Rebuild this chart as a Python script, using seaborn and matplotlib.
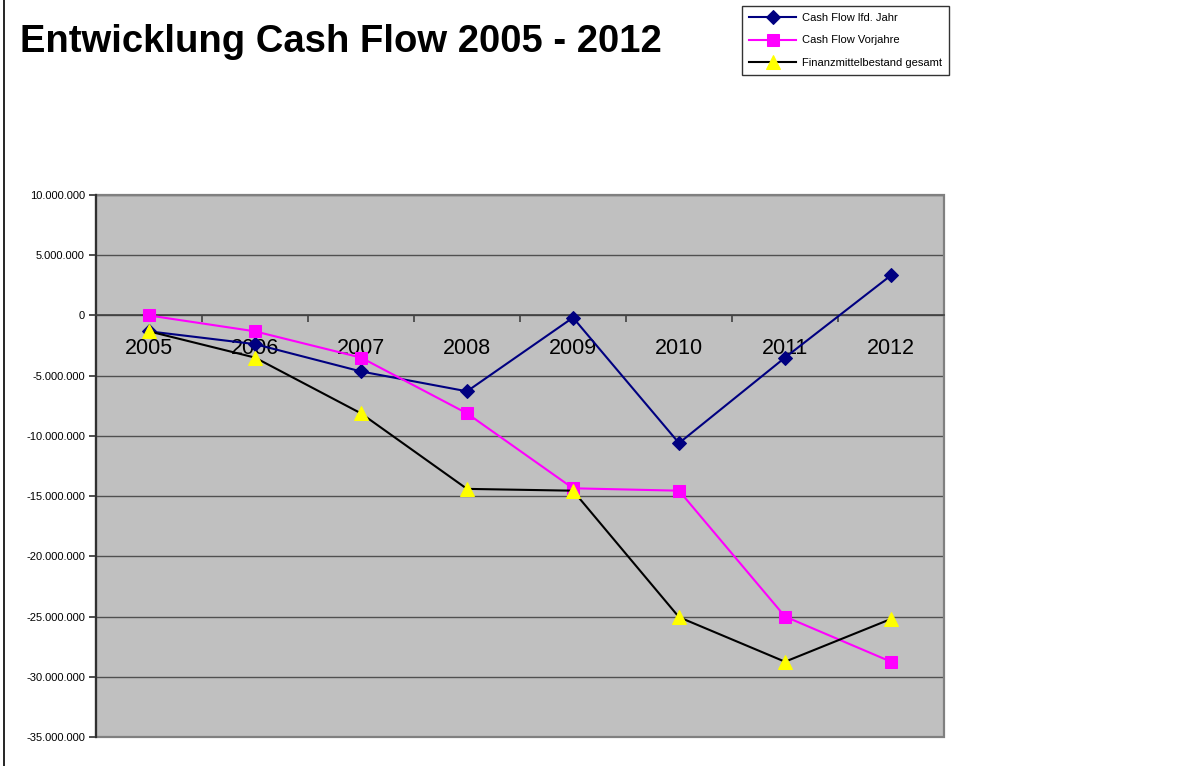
import matplotlib
matplotlib.use("Agg")
import matplotlib.pyplot as plt
from matplotlib.lines import Line2D
from matplotlib.patches import Rectangle
import seaborn as sns
import numpy as np
import pandas as pd

# ---- data ----
years = ["2005", "2006", "2007", "2008", "2009", "2010", "2011", "2012"]
cash_flow_lfd = [-1.32e6, -2.38e6, -4.65e6, -6.30e6, -0.18e6, -10.60e6, -3.50e6, 3.33e6]
cash_flow_vorjahre = [0.0, -1.32e6, -3.50e6, -8.13e6, -14.35e6, -14.55e6, -25.0e6, -28.75e6]
finanzmittel_gesamt = [-1.32e6, -3.50e6, -8.13e6, -14.40e6, -14.55e6, -25.05e6, -28.75e6, -25.2e6]
series_names = ["Cash Flow lfd. Jahr", "Cash Flow Vorjahre", "Finanzmittelbestand gesamt"]
y_ticks = list(range(-35_000_000, 10_000_001, 5_000_000))
title = "Entwicklung Cash Flow 2005 - 2012"

plt.rcParams['font.family'] = ['Liberation Sans', 'DejaVu Sans']

fig = plt.figure(figsize=(11.86, 7.66), dpi=100)
ax = fig.add_axes([96/1186, 1 - 737/766, (944-96)/1186, (737-195)/766])
ax.set_facecolor('#C0C0C0')

xpos = np.arange(len(years))
df = pd.DataFrame({"x": xpos, "a": cash_flow_lfd, "b": cash_flow_vorjahre, "c": finanzmittel_gesamt})

sns.lineplot(data=df, x="x", y="a", ax=ax, color="#000080", lw=1.5, marker="D",
             markersize=7.5, markerfacecolor="#000080", markeredgecolor="#000080",
             label=series_names[0], zorder=3)
sns.lineplot(data=df, x="x", y="b", ax=ax, color="#FF00FF", lw=1.5, marker="s",
             markersize=9, markerfacecolor="#FF00FF", markeredgecolor="#FF00FF",
             label=series_names[1], zorder=4)
sns.lineplot(data=df, x="x", y="c", ax=ax, color="black", lw=1.5, marker="^",
             markersize=10, markerfacecolor="#FFFF00", markeredgecolor="#FFFF00",
             label=series_names[2], zorder=5)

ax.set_xlim(-0.5, len(years) - 0.5)
ax.set_ylim(y_ticks[0], y_ticks[-1])
ax.set_xlabel("")
ax.set_ylabel("")

# y axis
ax.set_yticks(y_ticks)
ax.set_yticklabels([f"{v:,}".replace(",", ".") for v in y_ticks], fontsize=8)
ax.tick_params(axis='y', length=5, width=1.2, color='#303030', pad=3)
ax.yaxis.grid(True, color='#505050', lw=1.0)
ax.set_axisbelow(True)

# x axis crossing at zero
ax.spines['bottom'].set_position(('data', 0))
ax.spines['bottom'].set_color('#404040')
ax.spines['bottom'].set_linewidth(1.2)
ax.set_xticks(xpos)
ax.set_xticklabels(years, fontsize=15.5)
ax.set_xticks(np.arange(len(years) + 1) - 0.5, minor=True)
ax.tick_params(axis='x', which='major', length=0, pad=16)
ax.tick_params(axis='x', which='minor', length=5, width=1.2, color='#404040', direction='out')

ax.spines['left'].set_color('#303030')
ax.spines['left'].set_linewidth(1.6)
ax.spines['top'].set_visible(False)
ax.spines['right'].set_visible(False)
ax.add_patch(Rectangle((0, 0), 1, 1, transform=ax.transAxes, fill=False,
                       edgecolor='#808080', lw=1.6, zorder=1, clip_on=False))

# legend
ax.get_legend().remove()
h, l = ax.get_legend_handles_labels()
leg = fig.legend(h, l, loc='upper left', bbox_to_anchor=(742/1186, 1 - 6/766),
                 fontsize=8, frameon=True, fancybox=False, edgecolor='black',
                 handlelength=4.3, handletextpad=0.5, labelspacing=1.15,
                 borderpad=0.6, borderaxespad=0)
leg.get_frame().set_linewidth(1.0)

# title
fig.text(20/1186, 1 - 52/766, title, fontsize=27.5, fontweight='bold', va='baseline', ha='left')

# left border line of the page
fig.add_artist(Line2D([4/1186, 4/1186], [0, 1], transform=fig.transFigure, color='black', lw=1.2))

fig.savefig("out.png", dpi=100, facecolor='white')
